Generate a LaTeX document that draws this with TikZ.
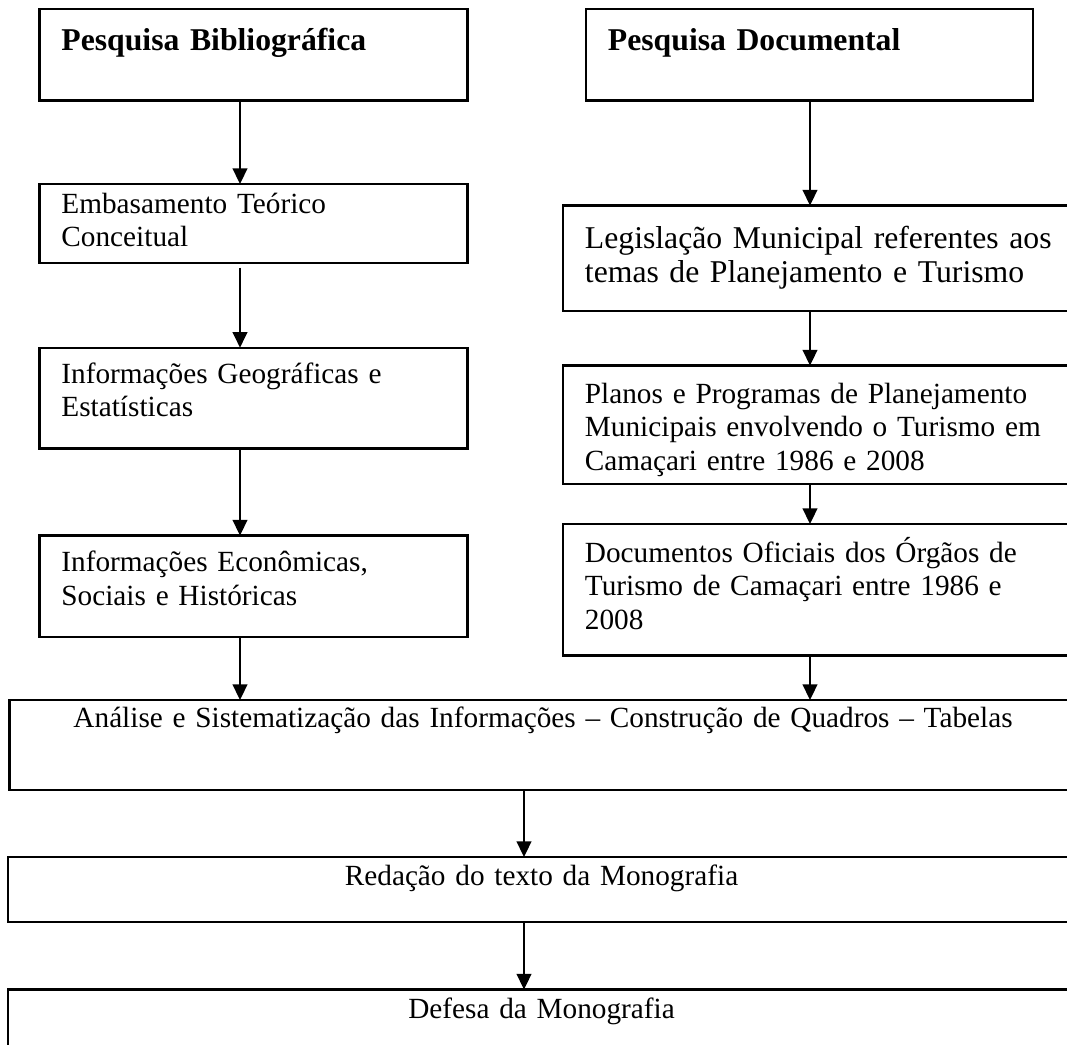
\documentclass[tikz,border=0pt]{standalone}
\usepackage{fontspec}
\setmainfont{Liberation Serif}
\usetikzlibrary{arrows.meta}

\tikzset{
  stage/.style={draw, line width=0.9pt, anchor=north west, align=left, inner xsep=9pt, inner ysep=0pt, outer sep=0pt, font=\fontsize{12}{13.8}\selectfont},
  headbox/.style={stage, font=\fontsize{13}{15}\selectfont\bfseries},
  widebox/.style={stage, align=center, text width=419.5pt},
  arr/.style={-{Triangle[length=6.4pt,width=6pt]}, line width=0.9pt},
}

\begin{document}
\begin{tikzpicture}[x=0.41pt, y=-0.41pt]
  \useasboundingbox (0,0) rectangle (1067,1045);
  \clip (0,0) rectangle (1067,1045);
  \coordinate (lx) at (240,0);
  \coordinate (rx) at (810,0);
  \coordinate (mx) at (524,0);

  \node[headbox, text width=157.5pt, text height=17.1pt, text depth=20.3pt] (biblio) at (39.5,9.3) {Pesquisa Bibliográfica};
  \node[stage, text width=157.5pt, text height=11.9pt, text depth=20.6pt] (teoria) at (39.5,184) {Embasamento Teórico\\Conceitual};
  \node[stage, text width=157.5pt, text height=14.5pt, text depth=26.8pt] (geo) at (39.5,347.7) {Informações Geográficas e\\Estatísticas};
  \node[stage, text width=157.5pt, text height=14.8pt, text depth=26.9pt] (econ) at (39.5,535.5) {Informações Econômicas,\\Sociais e Históricas};

  \node[headbox, text width=165.4pt, text height=17.1pt, text depth=20.3pt] (docum) at (586,9.3) {Pesquisa Documental};
  \node[stage, font=\fontsize{13}{13.8}\selectfont, text width=192.3pt, text height=17.7pt, text depth=25.5pt] (legis) at (563,205.5) {Legislação Municipal referentes aos\\temas de Planejamento e Turismo};
  \node[stage, text width=192.3pt, text height=15.5pt, text depth=33.2pt] (planos) at (563,365.5) {Planos e Programas de Planejamento\\Municipais envolvendo o Turismo em\\Camaçari entre 1986 e 2008};
  \node[stage, text width=192.3pt, text height=15.6pt, text depth=38.3pt] (orgaos) at (563,524) {Documentos Oficiais dos Órgãos de\\Turismo de Camaçari entre 1986 e\\2008};

  \node[widebox, text height=11.4pt, text depth=25.5pt] (analise) at (9.5,700) {Análise e Sistematização das Informações -- Construção de Quadros -- Tabelas};
  \node[widebox, text height=11.8pt, text depth=15pt] (redacao) at (8,857) {Redação do texto da Monografia};
  \node[widebox, text height=11.7pt, text depth=19.3pt] (defesa) at (8,989.5) {Defesa da Monografia};

  \draw[arr] (biblio.south -| lx) -- (teoria.north -| lx);
  \draw[arr, shorten <=1.8pt] (teoria.south -| lx) -- (geo.north -| lx);
  \draw[arr] (geo.south -| lx) -- (econ.north -| lx);
  \draw[arr] (econ.south -| lx) -- (analise.north -| lx);
  \draw[arr] (docum.south -| rx) -- (legis.north -| rx);
  \draw[arr] (legis.south -| rx) -- (planos.north -| rx);
  \draw[arr] (planos.south -| rx) -- (orgaos.north -| rx);
  \draw[arr] (orgaos.south -| rx) -- (analise.north -| rx);
  \draw[arr] (analise.south -| mx) -- (redacao.north -| mx);
  \draw[arr] (redacao.south -| mx) -- (defesa.north -| mx);
\end{tikzpicture}
\end{document}
